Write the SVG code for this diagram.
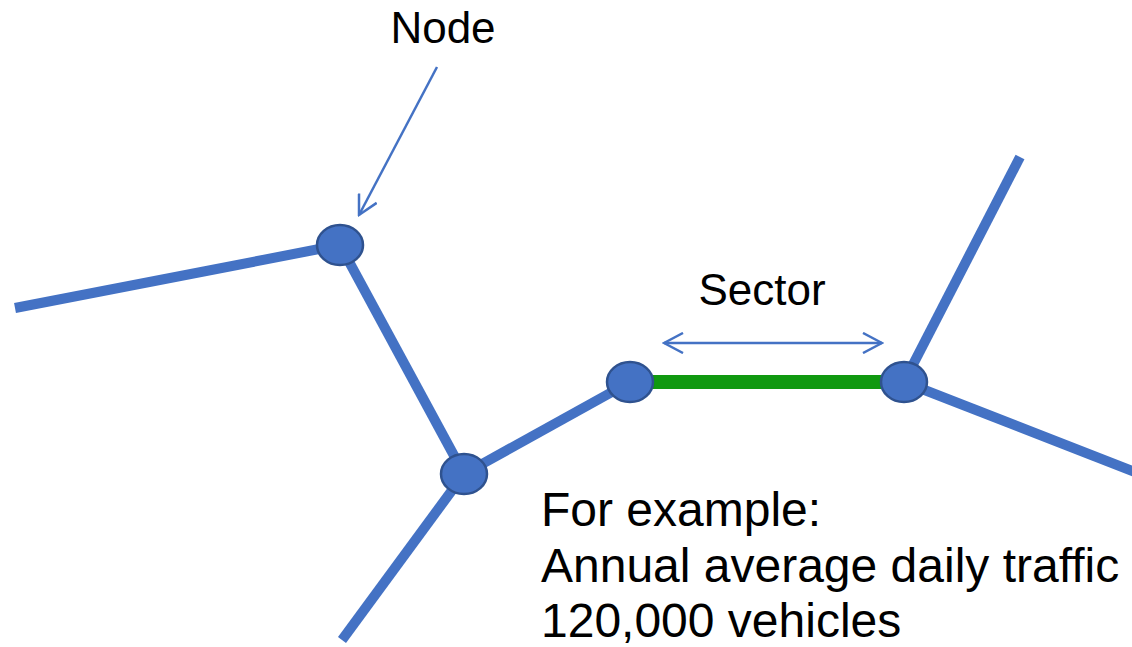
<svg xmlns="http://www.w3.org/2000/svg" width="1132" height="647" viewBox="0 0 1132 647">
  <style>
    .road { stroke: #4472C4; stroke-width: 10; fill: none; stroke-linecap: butt; }
    .sector { stroke: #109910; stroke-width: 14; fill: none; }
    .pointer { stroke: #4472C4; stroke-width: 2.5; fill: none; }
    .node { fill: #4472C4; stroke: #2F528F; stroke-width: 2.5; }
    .label { font-family: "Liberation Sans", Arial, sans-serif; fill: #000; }
  </style>
  <defs>
    <!-- open chevron head, about 19 px long and 20 px wide -->
    <marker id="open-arrow" viewBox="0 0 22 22" refX="20" refY="11" markerWidth="22" markerHeight="22" markerUnits="userSpaceOnUse" orient="auto-start-reverse">
      <path d="M1,1 L20,11 L1,21" fill="none" stroke="#4472C4" stroke-width="2.5"/>
    </marker>
  </defs>

  <g id="connectors">
    <line class="road" x1="15" y1="308" x2="340" y2="245"/>
    <line class="road" x1="340" y1="245" x2="464" y2="474"/>
    <line class="road" x1="464" y1="474" x2="342" y2="640"/>
    <line class="road" x1="464" y1="474" x2="630" y2="382"/>
    <line class="sector" x1="630" y1="382" x2="904" y2="382"/>
    <line class="road" x1="904" y1="382" x2="1020" y2="157"/>
    <line class="road" x1="904" y1="382" x2="1140" y2="474"/>
    <line class="pointer" x1="437" y1="67" x2="359" y2="215" marker-end="url(#open-arrow)"/>
    <line class="pointer" x1="664" y1="343" x2="882" y2="343" marker-start="url(#open-arrow)" marker-end="url(#open-arrow)"/>
  </g>

  <g id="node-1"><ellipse class="node" cx="340" cy="245" rx="23" ry="20"/></g>
  <g id="node-2"><ellipse class="node" cx="464" cy="474" rx="23" ry="20"/></g>
  <g id="node-3"><ellipse class="node" cx="630" cy="382" rx="23" ry="20"/></g>
  <g id="node-4"><ellipse class="node" cx="904" cy="382" rx="23" ry="20"/></g>

  <g id="labels">
    <text class="label" x="443" y="43" font-size="44" text-anchor="middle">Node</text>
    <text class="label" x="762" y="305" font-size="44" text-anchor="middle">Sector</text>
    <text class="label" x="541" y="526" font-size="48">For example:</text>
    <text class="label" x="541" y="582" font-size="48">Annual average daily traffic</text>
    <text class="label" x="541" y="637" font-size="48">120,000 vehicles</text>
  </g>
</svg>
